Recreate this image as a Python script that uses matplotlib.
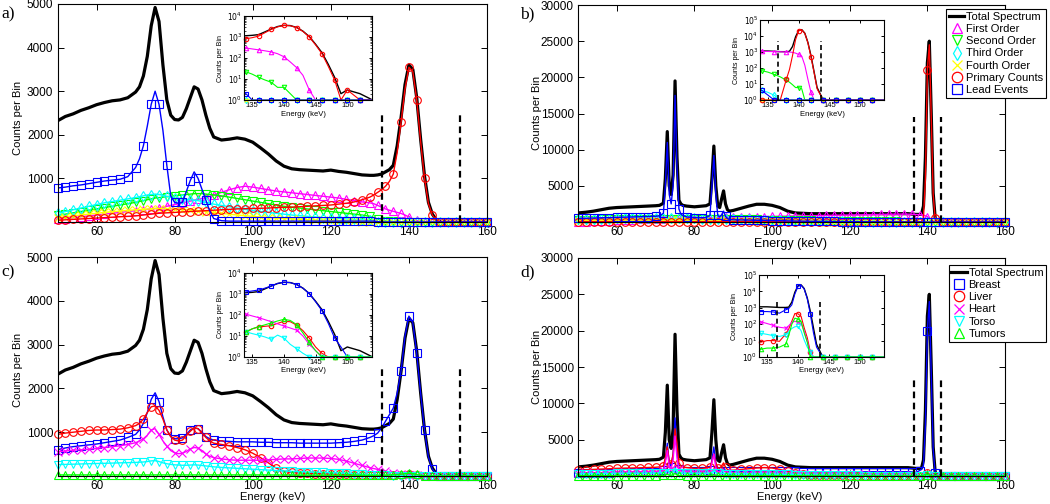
import numpy as np
import matplotlib
matplotlib.use('Agg')
import matplotlib.pyplot as plt
from matplotlib.lines import Line2D

plt.rcParams['font.family'] = ['Liberation Sans', 'DejaVu Sans']

# ---------------- energy grids (keV) ----------------
E_ac = [50, 52, 54, 56, 58, 60, 62, 64, 66, 68, 70,
        71, 72, 73, 74, 75, 76, 77, 78, 79, 80, 81, 82, 83, 84, 85, 86, 87, 88, 89, 90,
        92, 94, 96, 98, 100, 102, 104, 106, 108, 110, 112, 114, 116, 118, 120, 122, 124, 126, 128, 130,
        131, 132, 133, 134, 135, 136, 137, 138, 139, 140, 141, 142, 143, 144, 145, 146, 147, 148, 149, 150,
        152, 154, 156, 158, 160]

E_bd = [50, 52, 54, 56, 58, 60, 62, 64, 66, 68, 70,
        71, 72, 72.5, 73, 73.5, 74, 74.5, 75, 75.5, 76, 76.5, 77, 78,
        80, 82,
        83, 84, 84.5, 85, 85.5, 86, 86.5, 87, 87.5, 88, 88.5, 89, 90,
        92, 94, 96, 98, 100, 102, 104, 106, 108, 110, 112, 114, 116, 118, 120, 122, 124, 126, 128, 130, 132, 134,
        135, 136, 137, 138, 138.5, 139, 139.5, 140, 140.5, 141, 141.5, 142, 142.5, 143, 144, 145, 146,
        148, 150, 152, 154, 156, 158, 160]

# ---------------- panels a / c (counts per bin) ----------------
total_ac = [2320, 2420, 2480, 2560, 2620, 2690, 2740, 2780, 2800, 2850, 2980,
            3100, 3350, 3800, 4500, 4920, 4600, 3600, 2800, 2450, 2350, 2340, 2400, 2600, 2850, 3100, 3050, 2800, 2450, 2150, 1950,
            1880, 1900, 1930, 1900, 1830, 1700, 1560, 1400, 1280, 1220, 1200, 1190, 1180, 1170, 1190, 1160, 1140, 1110, 1080, 1070,
            1070, 1080, 1100, 1150, 1200, 1300, 1750, 2400, 3150, 3600, 3500, 2850, 1900, 1050, 450, 180, 50, 12, 2, 3,
            2, 1, 1, 1, 1]

a_first = [60, 80, 100, 120, 140, 160, 180, 200, 220, 240, 260,
           270, 280, 290, 300, 310, 320, 340, 360, 380, 400, 420, 440, 460, 480, 500, 520, 540, 560, 590, 620,
           680, 740, 790, 820, 800, 770, 740, 710, 690, 670, 650, 630, 610, 590, 570, 550, 520, 490, 460, 440,
           420, 380, 340, 300, 270, 245, 220, 195, 160, 115, 65, 35, 15, 3, 1, 1, 1, 1, 1, 1,
           1, 1, 1, 1, 1]
a_second = [150, 180, 210, 240, 270, 300, 330, 360, 390, 420, 450,
            470, 490, 510, 530, 550, 560, 570, 580, 590, 600, 610, 620, 630, 640, 650, 650, 650, 640, 630, 620,
            600, 570, 540, 510, 480, 450, 420, 390, 360, 340, 320, 300, 280, 260, 240, 220, 200, 180, 160, 130,
            100, 70, 40, 22, 17, 12, 9, 7, 4, 4, 2, 1, 1, 1, 1, 1, 1, 1, 1, 1,
            1, 1, 1, 1, 1]
a_third = [200, 240, 280, 320, 360, 400, 440, 470, 500, 530, 560,
           580, 600, 620, 630, 640, 630, 610, 590, 570, 550, 540, 530, 520, 510, 500, 490, 470, 450, 430, 410,
           380, 350, 320, 290, 260, 240, 220, 200, 180, 160, 145, 130, 115, 100, 90, 80, 70, 60, 50, 35,
           20, 8, 3, 1, 1, 1, 1, 1, 1, 1, 1, 1, 1, 1, 1, 1, 1, 1, 1, 1,
           1, 1, 1, 1, 1]
a_fourth = [100, 120, 140, 160, 180, 200, 220, 235, 250, 265, 280,
            285, 290, 295, 300, 305, 305, 305, 300, 300, 295, 290, 285, 280, 275, 270, 260, 250, 240, 230, 220,
            200, 180, 160, 145, 130, 115, 100, 90, 80, 70, 60, 50, 40, 35, 30, 25, 20, 15, 10, 8,
            5, 3, 1, 1, 1, 1, 1, 1, 1, 1, 1, 1, 1, 1, 1, 1, 1, 1, 1, 1,
            1, 1, 1, 1, 1]
a_primary = [40, 50, 60, 70, 80, 90, 100, 110, 120, 130, 140,
             150, 160, 170, 180, 190, 200, 205, 210, 215, 220, 225, 230, 235, 240, 245, 250, 255, 260, 265, 270,
             280, 290, 300, 305, 310, 315, 320, 330, 335, 340, 350, 360, 370, 380, 390, 410, 430, 460, 510, 570,
             620, 680, 740, 820, 930, 1100, 1600, 2300, 3050, 3550, 3450, 2800, 1850, 1000, 420, 160, 40, 9, 1, 3,
             1, 1, 1, 1, 1]
a_lead = [780, 800, 830, 850, 880, 910, 940, 960, 980, 1040, 1250,
          1450, 1750, 2200, 2700, 3000, 2700, 2100, 1300, 600, 450, 430, 450, 700, 950, 1150, 1000, 750, 500, 250, 80,
          30, 20, 20, 20, 20, 20, 20, 20, 20, 20, 20, 20, 20, 20, 20, 20, 20, 20, 20, 20,
          20, 10, 3, 2, 1, 1, 1, 1, 1, 1, 1, 1, 1, 1, 1, 1, 1, 1, 1, 1,
          1, 1, 1, 1, 1]

c_breast = [600, 640, 670, 690, 710, 730, 760, 790, 820, 880, 950,
            1050, 1200, 1450, 1750, 1900, 1700, 1350, 1050, 900, 850, 850, 870, 950, 1050, 1100, 1080, 1000, 900, 850, 820,
            800, 790, 780, 780, 780, 770, 770, 760, 760, 760, 750, 750, 750, 750, 750, 760, 770, 790, 820, 880,
            920, 980, 1100, 1250, 1400, 1550, 1900, 2400, 3200, 3650, 3500, 2800, 1900, 1050, 430, 160, 40, 8, 3, 1,
            1, 1, 1, 1, 1]
c_liver = [950, 980, 1000, 1020, 1040, 1050, 1050, 1060, 1070, 1100, 1150,
           1200, 1300, 1450, 1580, 1600, 1500, 1300, 1050, 900, 820, 800, 820, 920, 1020, 1100, 1080, 980, 880, 800, 750,
           720, 690, 650, 600, 520, 420, 300, 180, 110, 80, 70, 60, 55, 50, 45, 40, 35, 30, 25, 20,
           15, 12, 10, 15, 22, 27, 29, 31, 40, 50, 48, 33, 18, 8, 3, 1.5, 1, 1, 1, 1,
           1, 1, 1, 1, 1]
c_heart = [550, 570, 590, 600, 610, 630, 650, 670, 690, 720, 760,
           800, 850, 930, 1050, 1080, 950, 800, 680, 580, 530, 510, 520, 560, 620, 650, 640, 580, 500, 450, 420,
           390, 370, 360, 360, 360, 360, 370, 380, 390, 390, 400, 410, 410, 410, 400, 380, 340, 290, 240, 190,
           170, 150, 130, 110, 90, 75, 60, 48, 38, 30, 24, 19, 10, 4, 2, 1, 1, 1, 1, 1,
           1, 1, 1, 1, 1]
c_torso = [260, 265, 270, 275, 280, 285, 290, 295, 300, 305, 310,
           315, 320, 330, 345, 350, 330, 300, 280, 265, 255, 250, 245, 245, 250, 255, 250, 240, 230, 220, 210,
           195, 185, 175, 165, 155, 145, 135, 125, 115, 105, 98, 92, 86, 80, 75, 70, 60, 50, 40, 30,
           25, 20, 18, 16, 13, 11, 9, 7, 11, 8, 4, 2.5, 1.5, 1, 1, 1, 1, 1, 1, 1,
           1, 1, 1, 1, 1]
c_tumors = [25, 25, 25, 25, 25, 25, 25, 25, 25, 25, 25,
            25, 25, 25, 25, 25, 25, 25, 25, 25, 25, 25, 25, 25, 25, 25, 25, 25, 25, 25, 25,
            25, 25, 25, 25, 25, 25, 24, 23, 22, 21, 20, 19, 18, 17, 16, 15, 15, 15, 15, 15,
            14, 13, 13, 16, 22, 28, 34, 42, 52, 62, 55, 35, 14, 5, 2, 1, 1, 1, 1, 1,
            1, 1, 1, 1, 1]

# ---------------- panels b / d (counts per bin) ----------------
total_bd = [1250, 1350, 1500, 1700, 1900, 2000, 2050, 2100, 2150, 2200, 2250,
            2300, 2600, 6000, 12500, 5000, 3800, 6500, 19500, 9000, 3000, 2500, 2300, 2200,
            2100, 2200,
            2250, 2500, 6000, 10500, 5000, 2200, 2000, 3200, 4300, 2500, 1700, 1500, 1600,
            1900, 2200, 2450, 2450, 2300, 2000, 1500, 1250, 1200, 1150, 1150, 1150, 1150, 1150, 1150, 1150, 1150, 1150, 1150, 1150, 1150, 1150,
            1150, 1100, 1050, 1050, 1100, 2200, 9000, 22000, 25000, 15000, 4000, 600, 60, 6, 1, 1, 1,
            1, 1, 1, 1, 1, 1, 1]

b_first = [30, 60, 100, 150, 200, 250, 300, 340, 380, 420, 450,
           460, 470, 475, 480, 485, 490, 495, 500, 505, 510, 515, 520, 530,
           550, 570,
           590, 600, 605, 610, 615, 620, 625, 630, 635, 640, 645, 650, 660,
           690, 710, 730, 750, 770, 790, 810, 830, 850, 870, 890, 910, 930, 950, 970, 990, 1010, 1030, 1050, 1070, 1080, 1090,
           1080, 1060, 1040, 1010, 990, 950, 850, 700, 550, 150, 20, 3, 1, 1, 1, 1, 1,
           1, 1, 1, 1, 1, 1, 1]
b_second = [300, 320, 340, 360, 380, 400, 410, 420, 430, 440, 450,
            455, 460, 460, 465, 465, 470, 470, 470, 470, 470, 470, 470, 465,
            460, 450,
            445, 440, 440, 435, 435, 430, 430, 425, 425, 420, 420, 415, 410,
            400, 380, 360, 340, 320, 300, 280, 260, 240, 220, 200, 185, 170, 155, 140, 125, 115, 105, 95, 85, 78, 68,
            55, 40, 28, 17, 13, 9, 6, 6, 5, 1, 1, 1, 1, 1, 1, 1, 1,
            1, 1, 1, 1, 1, 1, 1]
b_third = [400, 420, 440, 460, 480, 500, 510, 520, 530, 540, 540,
           540, 540, 535, 535, 530, 530, 525, 525, 520, 520, 515, 515, 510,
           500, 480,
           470, 460, 455, 450, 445, 440, 435, 430, 425, 420, 415, 410, 400,
           380, 360, 330, 300, 270, 240, 210, 180, 160, 140, 120, 100, 85, 70, 60, 50, 40, 30, 22, 15, 8, 4,
           3, 2, 1, 1, 1, 1, 1, 1, 1, 1, 1, 1, 1, 1, 1, 1, 1,
           1, 1, 1, 1, 1, 1, 1]
b_fourth = [200, 210, 220, 230, 240, 250, 255, 260, 265, 270, 270,
            270, 270, 270, 270, 270, 270, 270, 270, 270, 270, 270, 270, 270,
            265, 260,
            255, 255, 250, 250, 250, 250, 245, 245, 245, 240, 240, 240, 235,
            225, 210, 195, 180, 165, 150, 135, 120, 105, 90, 78, 66, 55, 45, 36, 28, 20, 14, 9, 5, 3, 1,
            1, 1, 1, 1, 1, 1, 1, 1, 1, 1, 1, 1, 1, 1, 1, 1, 1,
            1, 1, 1, 1, 1, 1, 1]
b_primary = [50, 50, 50, 50, 50, 50, 50, 50, 50, 50, 50,
             50, 50, 50, 50, 50, 50, 50, 50, 50, 50, 50, 50, 50,
             50, 50,
             50, 50, 50, 50, 50, 50, 50, 50, 50, 50, 50, 50, 50,
             50, 50, 48, 45, 42, 40, 36, 32, 28, 24, 20, 16, 13, 10, 8, 6, 5, 4, 3, 2, 1, 1,
             1, 1, 1, 20, 80, 600, 6000, 21000, 24500, 14500, 3800, 500, 55, 5, 1, 1, 1,
             1, 1, 1, 1, 1, 1, 1]
b_lead = [500, 520, 550, 580, 610, 640, 670, 700, 730, 760, 800,
          850, 1200, 5000, 11000, 3800, 2500, 5000, 17500, 7500, 1800, 1100, 900, 700,
          600, 600,
          620, 900, 5000, 9200, 3800, 900, 700, 1000, 1500, 800, 500, 350, 300,
          280, 260, 240, 220, 200, 180, 160, 140, 120, 100, 90, 80, 70, 60, 50, 40, 30, 20, 15, 10, 7, 4,
          2, 1, 1, 1, 1, 1, 1, 1, 1, 1, 1, 1, 1, 1, 1, 1, 1,
          1, 1, 1, 1, 1, 1, 1]

d_breast = [400, 420, 440, 460, 480, 500, 520, 540, 560, 580, 600,
            620, 800, 2200, 4500, 1800, 1300, 3000, 8000, 3500, 1000, 750, 700, 680,
            660, 660,
            680, 800, 2200, 4000, 1800, 750, 700, 900, 1100, 750, 680, 660, 650,
            650, 660, 680, 700, 700, 680, 650, 620, 600, 590, 580, 580, 580, 580, 580, 580, 580, 590, 590, 590, 590, 590,
            590, 560, 470, 750, 900, 1500, 7000, 20000, 24000, 14000, 3600, 400, 30, 4, 1, 1, 1,
            1, 1, 1, 1, 1, 1, 1]
d_liver = [800, 850, 900, 950, 1000, 1050, 1080, 1100, 1130, 1170, 1200,
           1250, 1400, 2500, 4000, 2000, 1700, 3000, 6500, 4500, 1800, 1400, 1250, 1150,
           1050, 1050,
           1100, 1200, 2000, 3000, 1800, 1100, 1050, 1400, 1800, 1200, 900, 800, 800,
           900, 1000, 1100, 1150, 1100, 900, 650, 420, 280, 200, 150, 110, 90, 70, 55, 40, 30, 22, 16, 12, 9, 8,
           10, 10, 9, 25, 50, 150, 450, 430, 300, 60, 15, 2, 1, 1, 1, 1, 1,
           1, 1, 1, 1, 1, 1, 1]
d_heart = [400, 420, 440, 460, 480, 500, 520, 540, 560, 580, 600,
           620, 800, 1800, 3500, 1400, 1000, 2200, 5500, 2500, 900, 700, 620, 560,
           520, 510,
           520, 600, 1800, 3000, 1200, 560, 520, 650, 800, 550, 450, 420, 400,
           410, 420, 420, 420, 410, 400, 380, 360, 340, 320, 300, 290, 280, 270, 260, 240, 220, 200, 180, 165, 150, 140,
           110, 85, 65, 58, 80, 130, 150, 130, 110, 40, 9, 2, 1, 1, 1, 1, 1,
           1, 1, 1, 1, 1, 1, 1]
d_torso = [300, 310, 320, 330, 340, 350, 360, 370, 380, 390, 400,
           410, 450, 600, 800, 500, 450, 650, 1100, 700, 420, 400, 390, 380,
           370, 360,
           360, 380, 550, 700, 500, 350, 340, 360, 400, 340, 320, 310, 300,
           290, 280, 270, 260, 250, 230, 210, 190, 170, 150, 135, 120, 105, 95, 85, 75, 65, 55, 47, 40, 33, 28,
           24, 20, 18, 22, 35, 55, 70, 73, 40, 11, 4, 2, 1, 1, 1, 1, 1,
           1, 1, 1, 1, 1, 1, 1]
d_tumors = [60, 60, 60, 60, 60, 60, 60, 60, 60, 60, 60,
            60, 70, 150, 250, 120, 100, 200, 350, 150, 70, 60, 60, 60,
            55, 55,
            55, 60, 100, 200, 90, 55, 55, 60, 70, 55, 50, 50, 50,
            50, 50, 50, 50, 50, 45, 40, 35, 30, 25, 20, 18, 16, 14, 12, 10, 8, 7, 6, 5, 4, 3,
            3.5, 3.5, 4, 6, 20, 100, 234, 200, 150, 30, 8, 1, 1, 1, 1, 1, 1,
            1, 1, 1, 1, 1, 1, 1]

# energy windows (dashed lines)
win_ac = [133, 153]
win_bd = [136.6, 143.6]

# ---------------- styles ----------------
K, M, G, C, Y, R, B = 'k', '#ff00ff', '#00ff00', '#00ffff', '#ffff00', '#ff0000', '#0000ff'

series_a = [('Total Spectrum', total_ac, K, None), ('First Order', a_first, M, '^'),
            ('Second Order', a_second, G, 'v'), ('Third Order', a_third, C, 'd'),
            ('Fourth Order', a_fourth, Y, 'x'), ('Primary Counts', a_primary, R, 'o'),
            ('Lead Events', a_lead, B, 's')]
series_b = [('Total Spectrum', total_bd, K, None), ('First Order', b_first, M, '^'),
            ('Second Order', b_second, G, 'v'), ('Third Order', b_third, C, 'd'),
            ('Fourth Order', b_fourth, Y, 'x'), ('Primary Counts', b_primary, R, 'o'),
            ('Lead Events', b_lead, B, 's')]
series_c = [('Total Spectrum', total_ac, K, None), ('Breast', c_breast, B, 's'),
            ('Liver', c_liver, R, 'o'), ('Heart', c_heart, M, 'x'),
            ('Torso', c_torso, C, 'v'), ('Tumors', c_tumors, G, '^')]
series_d = [('Total Spectrum', total_bd, K, None), ('Breast', d_breast, B, 's'),
            ('Liver', d_liver, R, 'o'), ('Heart', d_heart, M, 'x'),
            ('Torso', d_torso, C, 'v'), ('Tumors', d_tumors, G, '^')]

W, H = 1050, 504
fig = plt.figure(figsize=(W / 100, H / 100), dpi=100)
fig.patch.set_facecolor('white')


def add_ax(l, t, r, b):
    return fig.add_axes([l / W, 1 - b / H, (r - l) / W, (b - t) / H])


def draw(ax, E, series, ms, lw, lw_tot, xlim=None):
    E = np.asarray(E, float)
    mk = np.array([i for i, e in enumerate(E) if e.is_integer() and int(e) % 2 == 0])
    if xlim is not None:
        mk = mk[(E[mk] >= xlim[0]) & (E[mk] <= xlim[1])]
    for name, y, color, marker in series:
        y = np.asarray(y, float)
        if marker is None:
            ax.plot(E, y, color=color, lw=lw_tot, solid_joinstyle='round')
        else:
            ax.plot(E, y, color=color, lw=lw)
            ax.plot(E[mk], y[mk], ls='none', marker=marker, ms=ms, mfc='none',
                    mec=color, mew=0.8, clip_on=False)


def style(ax, size):
    ax.tick_params(direction='in', top=True, right=True, length=4, width=0.7,
                   labelsize=size, pad=3)
    ax.tick_params(which='minor', direction='in', top=True, right=True, length=2, width=0.5)
    for s in ax.spines.values():
        s.set_linewidth(0.8)


def main_panel(box, E, series, ymax, yticks, win, dash_top):
    ax = add_ax(*box)
    draw(ax, E, series, ms=5.5, lw=1.0, lw_tot=2.3)
    for x in win:
        ax.plot([x, x], [0, dash_top], color='k', lw=1.6, ls=(0, (3, 2)))
    ax.set_xlim(50, 160)
    ax.set_ylim(0, ymax)
    ax.set_xticks([60, 80, 100, 120, 140, 160])
    ax.set_yticks(yticks)
    style(ax, 8.5)
    return ax


def inset(box, E, series, ymax, win=None, dash_top=None):
    xl = (133.7, 153.9)
    ax = add_ax(*box)
    draw(ax, E, series, ms=3.2, lw=0.8, lw_tot=1.0, xlim=xl)
    if win is not None:
        for x in win:
            ax.plot([x, x], [1, dash_top], color='k', lw=1.2, ls=(0, (3, 2)))
    ax.set_yscale('log')
    ax.set_xlim(*xl)
    ax.set_ylim(1, ymax)
    ax.set_xticks([135, 140, 145, 150])
    decades = [10.0 ** k for k in range(int(round(np.log10(ymax))) + 1)]
    ax.set_yticks(decades)
    ax.set_yticklabels([r'$10^{%d}$' % k for k in range(len(decades))])
    style(ax, 5.5)
    ax.tick_params(length=2.5, pad=1.2)
    ax.tick_params(which='minor', length=1.5)
    return ax


ax_a = main_panel((57.5, 4, 487, 222), E_ac, series_a, 5000, [1000, 2000, 3000, 4000, 5000], win_ac, 2450)
ax_b = main_panel((578, 5, 1005, 222), E_bd, series_b, 30000, [5000, 10000, 15000, 20000, 25000, 30000], win_bd, 14500)
ax_c = main_panel((57.5, 257, 487, 476), E_ac, series_c, 5000, [1000, 2000, 3000, 4000, 5000], win_ac, 2450)
ax_d = main_panel((578, 258, 1005, 476), E_bd, series_d, 30000, [5000, 10000, 15000, 20000, 25000, 30000], win_bd, 13500)

in_a = inset((244, 16, 372, 100), E_ac, series_a, 1e4)
in_b = inset((760, 20, 884, 100), E_bd, series_b, 1e5, win_bd, 5000)
in_c = inset((244, 273, 372, 357), E_ac, series_c, 1e4)
in_d = inset((759, 275, 884, 357), E_bd, series_d, 1e5, win_bd, 3000)

# axis labels
lab = dict(ha='center', va='center')
for (x, y) in [(18, 118), (537, 113), (18, 370), (537, 367)]:
    fig.text(x / W, 1 - y / H, 'Counts per Bin', rotation=90, fontsize=8, **lab)
fig.text(273 / W, 1 - 243 / H, 'Energy (keV)', fontsize=8, **lab)
fig.text(790 / W, 1 - 244 / H, 'Energy (keV)', fontsize=9, **lab)
fig.text(273 / W, 1 - 497 / H, 'Energy (keV)', fontsize=8, **lab)
fig.text(790 / W, 1 - 497 / H, 'Energy (keV)', fontsize=8, **lab)

for (x, y) in [(221, 58), (736, 60), (221, 315), (735, 316)]:
    fig.text(x / W, 1 - y / H, 'Counts per Bin', rotation=90, fontsize=5, **lab)
for (x, y) in [(303, 115), (822, 115), (303, 370), (821, 371)]:
    fig.text(x / W, 1 - y / H, 'Energy (keV)', fontsize=5.5, **lab)

# panel letters
for (x, y, t) in [(1, 14, 'a)'), (520, 14, 'b)'), (1, 272, 'c)'), (520, 272, 'd)')]:
    fig.text(x / W, 1 - y / H, t, fontsize=12.5, family='Liberation Serif', ha='left', va='center')


def legend(ax, series, anchor):
    handles, labels = [], []
    for name, y, color, marker in series:
        if marker is None:
            handles.append(Line2D([0], [0], color=color, lw=2.3))
        else:
            handles.append(Line2D([0], [0], color=color, marker=marker, ls='none', ms=7.5,
                                  mfc='none', mec=color, mew=0.9))
        labels.append(name)
    lg = ax.legend(handles, labels, loc='upper right', bbox_to_anchor=(anchor[0] / W, 1 - anchor[1] / H),
                   bbox_transform=fig.transFigure, fontsize=8, frameon=True, fancybox=False,
                   edgecolor='k', framealpha=1, borderpad=0.25, labelspacing=0.2,
                   handlelength=1.4, handletextpad=0.15, borderaxespad=0)
    lg.get_frame().set_linewidth(0.8)
    lg.set_zorder(10)


legend(ax_b, series_b, (1046, 9))
legend(ax_d, series_d, (1046, 265))

fig.savefig('out.png', dpi=100)
